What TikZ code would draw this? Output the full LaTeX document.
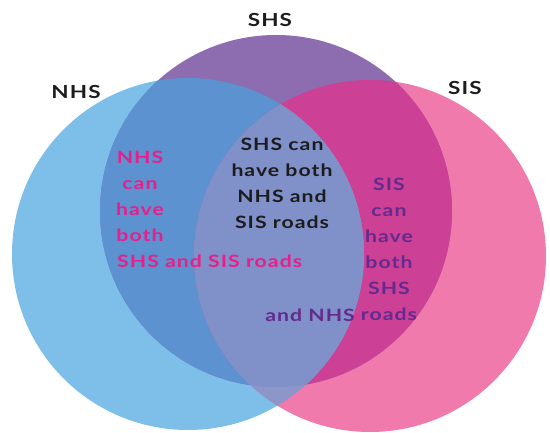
\documentclass[tikz,border=0pt]{standalone}
\usepackage{fontspec}
\setmainfont{Lato}[FakeStretch=1.25,LetterSpace=6]
\definecolor{nhsC}{RGB}{125,191,232}
\definecolor{shsC}{RGB}{142,108,176}
\definecolor{sisC}{RGB}{240,122,172}
\definecolor{nhsshsC}{RGB}{92,146,208}
\definecolor{shssisC}{RGB}{204,64,150}
\definecolor{nhssisC}{RGB}{140,150,200}
\definecolor{allC}{RGB}{128,144,200}
\definecolor{pinkT}{RGB}{232,30,138}
\definecolor{purpleT}{RGB}{100,42,142}
\definecolor{darkT}{RGB}{28,28,30}
\begin{document}
\begin{tikzpicture}[x=1pt,y=-1pt,
  lbl/.style={font=\fontsize{18}{22}\bfseries\selectfont, text=darkT, inner sep=0pt},
  body/.style={font=\fontsize{17}{26}\bfseries\selectfont, inner sep=0pt, align=center}]
\useasboundingbox (0,0) rectangle (550,433);
\def\nhs{(188,254) circle[radius=176pt]}
\def\shs{(276,211) circle[radius=176pt]}
\def\sis{(370,256) circle[radius=176pt]}
\fill[nhsC] \nhs;
\fill[sisC] \sis;
\fill[shsC] \shs;
\begin{scope}\clip \nhs; \fill[nhsshsC] \shs; \end{scope}
\begin{scope}\clip \shs; \fill[shssisC] \sis; \end{scope}
\begin{scope}\clip \nhs; \fill[nhssisC] \sis; \end{scope}
\begin{scope}\clip \nhs; \clip \shs; \fill[allC] \sis; \end{scope}
% labels
\node[lbl, anchor=base] (lnhs) at (76,99) {NHS};
\node[lbl, anchor=base] (lshs) at (270,27) {SHS};
\node[lbl, anchor=base] (lsis) at (465,95) {SIS};
% center text
\node[body, text=darkT, anchor=north] (tall) at (282,137.5) {SHS can\\have both\\NHS and\\SIS roads};
% pink text
\node[body, text=pinkT, anchor=north] (tnhs) at (140,150.5) {NHS\\can\\have\\both};
\node[body, text=pinkT, anchor=base west] (tnhs2) at (117,268) {SHS and SIS roads};
% purple text
\node[body, text=purpleT, anchor=north] (tsis) at (389,177.5) {SIS\\can\\have\\both\\SHS\\roads};
\node[body, text=purpleT, anchor=base east] (tsis2) at (355,322) {and NHS};
\end{tikzpicture}
\end{document}
